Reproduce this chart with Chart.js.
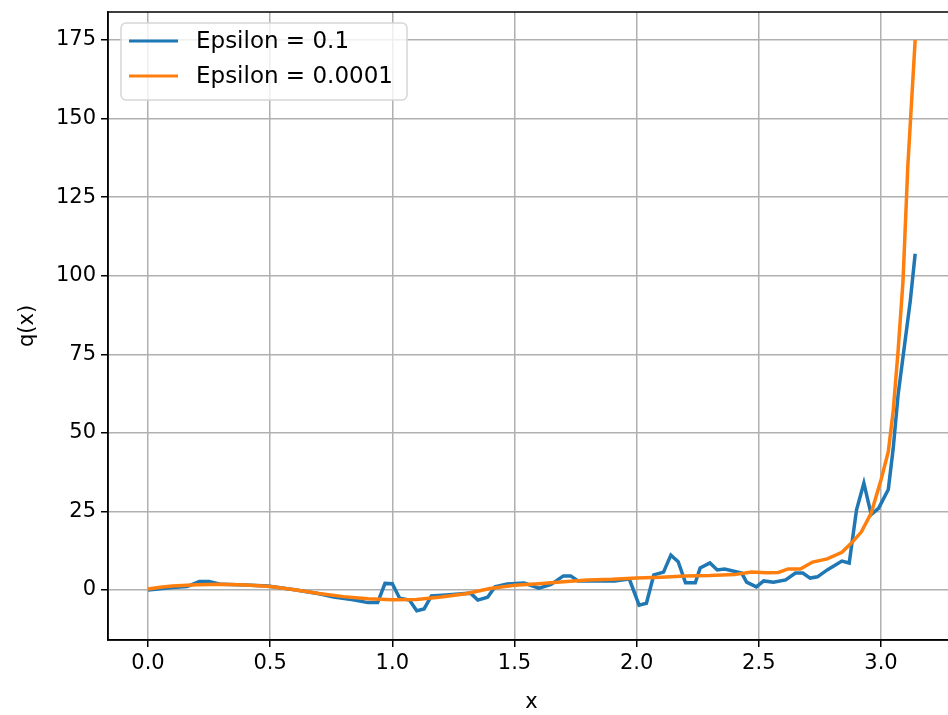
<!DOCTYPE html>
<html>
<head>
<meta charset="utf-8">
<script src="https://cdn.jsdelivr.net/npm/chart.js@4.4.1/dist/chart.umd.min.js"></script>
<style>
  html, body { margin: 0; padding: 0; background: #fff; overflow: hidden; }
  #wrap { width: 960px; height: 715px; }
</style>
</head>
<body>
<div id="wrap"><canvas id="qChart" width="960" height="715"></canvas></div>
<script>
// values
const seriesLabels = ['Epsilon = 0.1', 'Epsilon = 0.0001'];

const blueX = [0, 0.05, 0.1, 0.16, 0.21, 0.25, 0.3, 0.4, 0.49, 0.6,
  0.7, 0.76, 0.84, 0.9, 0.94, 0.97, 1.0, 1.03, 1.07, 1.1,
  1.13, 1.16, 1.22, 1.32, 1.35, 1.39, 1.42, 1.47, 1.54, 1.6,
  1.65, 1.7, 1.73, 1.76, 1.91, 1.97, 2.01, 2.04, 2.07, 2.11,
  2.14, 2.17, 2.2, 2.24, 2.26, 2.3, 2.33, 2.36, 2.43, 2.45,
  2.49, 2.52, 2.56, 2.61, 2.65, 2.68, 2.71, 2.74, 2.78, 2.84,
  2.87, 2.9, 2.93, 2.96, 2.99, 3.03, 3.05, 3.07, 3.1, 3.12, 3.14];
const blueY = [0, 0.4, 0.8, 1.1, 2.7, 2.7, 1.8, 1.6, 1.3, 0.1,
  -1.2, -2.2, -3.1, -4, -4, 2.1, 2, -2.6, -3.2, -6.6,
  -6, -1.9, -1.6, -1, -3.2, -2.3, 1, 1.9, 2.2, 0.6,
  1.8, 4.5, 4.5, 2.9, 2.9, 3.5, -4.8, -4.2, 4.8, 5.7,
  11.1, 9, 2.3, 2.3, 7, 8.6, 6.4, 6.7, 5.4, 2.5,
  1, 2.9, 2.5, 3.2, 5.4, 5.4, 3.8, 4.2, 6.4, 9.2,
  8.6, 25.5, 34, 24, 26, 32, 45, 62, 80, 92, 107];

const orangeX = [0, 0.05, 0.1, 0.2, 0.3, 0.4, 0.5, 0.6, 0.7, 0.8,
  0.9, 1.0, 1.1, 1.2, 1.3, 1.4, 1.5, 1.6, 1.7, 1.8,
  1.9, 2.0, 2.1, 2.2, 2.3, 2.4, 2.47, 2.53, 2.58, 2.62,
  2.67, 2.72, 2.78, 2.84, 2.88, 2.92, 2.96, 3.0, 3.03, 3.05,
  3.07, 3.09, 3.11, 3.14];
const orangeY = [0.3, 0.9, 1.3, 1.7, 1.8, 1.6, 1.1, 0.1, -1.1, -2.1,
  -2.8, -3.1, -3.0, -2.2, -1.2, 0.5, 1.5, 2.0, 2.6, 3.2,
  3.4, 3.8, 4.1, 4.5, 4.6, 4.9, 5.7, 5.5, 5.6, 6.7,
  6.7, 8.9, 9.9, 12, 15, 18.5, 24.5, 35, 44, 57,
  76, 98, 135, 175];

const xTicks = [0, 0.5, 1.0, 1.5, 2.0, 2.5, 3.0];
const yTicks = [0, 25, 50, 75, 100, 125, 150, 175];

const toPoints = (xs, ys) => xs.map((x, i) => ({x: x, y: ys[i]}));
const FONT = 'DejaVu Sans';
const FS = 21;

// top/right spines, the library only draws left and bottom
const frame = {
  id: 'frame',
  afterDraw(chart) {
    const {ctx, chartArea: a} = chart;
    ctx.save();
    ctx.strokeStyle = '#000';
    ctx.lineWidth = 1.5;
    ctx.strokeRect(a.left, a.top, a.right - a.left, a.bottom - a.top);
    ctx.restore();
  }
};

// matplotlib style legend box in the upper left
const boxLegend = {
  id: 'boxLegend',
  afterDraw(chart) {
    const ctx = chart.ctx;
    const a = chart.chartArea;
    const x0 = a.left + 13, y0 = a.top + 11, w = 286, h = 77;
    ctx.save();
    ctx.beginPath();
    ctx.roundRect(x0, y0, w, h, 5);
    ctx.fillStyle = 'rgba(255,255,255,0.8)';
    ctx.fill();
    ctx.strokeStyle = '#d6d6d6';
    ctx.lineWidth = 1.5;
    ctx.stroke();
    ctx.font = '23px "' + FONT + '"';
    ctx.textBaseline = 'middle';
    chart.data.datasets.forEach((ds, i) => {
      const cy = y0 + 18 + i * 35;
      ctx.strokeStyle = ds.borderColor;
      ctx.lineWidth = 3.2;
      ctx.beginPath();
      ctx.moveTo(x0 + 8, cy);
      ctx.lineTo(x0 + 57, cy);
      ctx.stroke();
      ctx.fillStyle = '#000';
      ctx.fillText(ds.label, x0 + 75, cy + 1);
    });
    ctx.restore();
  }
};

new Chart(document.getElementById('qChart'), {
  type: 'scatter',
  data: {
    datasets: [
      {
        label: seriesLabels[0],
        data: toPoints(blueX, blueY),
        showLine: true,
        borderColor: '#1f77b4',
        backgroundColor: '#1f77b4',
        borderWidth: 3.5,
        pointRadius: 0,
        order: 2
      },
      {
        label: seriesLabels[1],
        data: toPoints(orangeX, orangeY),
        showLine: true,
        borderColor: '#ff7f0e',
        backgroundColor: '#ff7f0e',
        borderWidth: 3.5,
        pointRadius: 0,
        order: 1
      }
    ]
  },
  options: {
    responsive: false,
    animation: false,
    layout: { padding: { left: 0, right: 5, top: 12, bottom: 0 } },
    plugins: {
      legend: { display: false },
      tooltip: { enabled: false }
    },
    scales: {
      x: {
        type: 'linear',
        min: -0.1637,
        max: 3.303,
        afterBuildTicks: (s) => { s.ticks = xTicks.map(v => ({value: v})); },
        afterFit: (s) => { s.height = 75; s.paddingLeft = 0; s.paddingRight = 0; },
        ticks: {
          color: '#000',
          font: { family: FONT, size: FS },
          padding: 4,
          maxRotation: 0,
          callback: (v) => Number(v).toFixed(1)
        },
        grid: { color: '#b0b0b0', lineWidth: 1.5, tickColor: '#000', tickLength: 7, tickWidth: 1.5 },
        border: { display: true, color: '#000', width: 1.5 },
        title: { display: true, text: 'x', color: '#000', font: { family: FONT, size: FS }, padding: { top: 0, bottom: 0 } }
      },
      y: {
        type: 'linear',
        min: -15.9,
        max: 183.9,
        afterBuildTicks: (s) => { s.ticks = yTicks.map(v => ({value: v})); },
        afterFit: (s) => { s.width = 108; s.paddingTop = 0; s.paddingBottom = 0; },
        ticks: {
          color: '#000',
          font: { family: FONT, size: FS },
          padding: 5
        },
        grid: { color: '#b0b0b0', lineWidth: 1.5, tickColor: '#000', tickLength: 7, tickWidth: 1.5 },
        border: { display: true, color: '#000', width: 1.5 },
        title: { display: true, text: 'q(x)', color: '#000', font: { family: FONT, size: FS }, padding: { top: 15, bottom: 0 } }
      }
    }
  },
  plugins: [frame, boxLegend]
});
</script>
</body>
</html>
